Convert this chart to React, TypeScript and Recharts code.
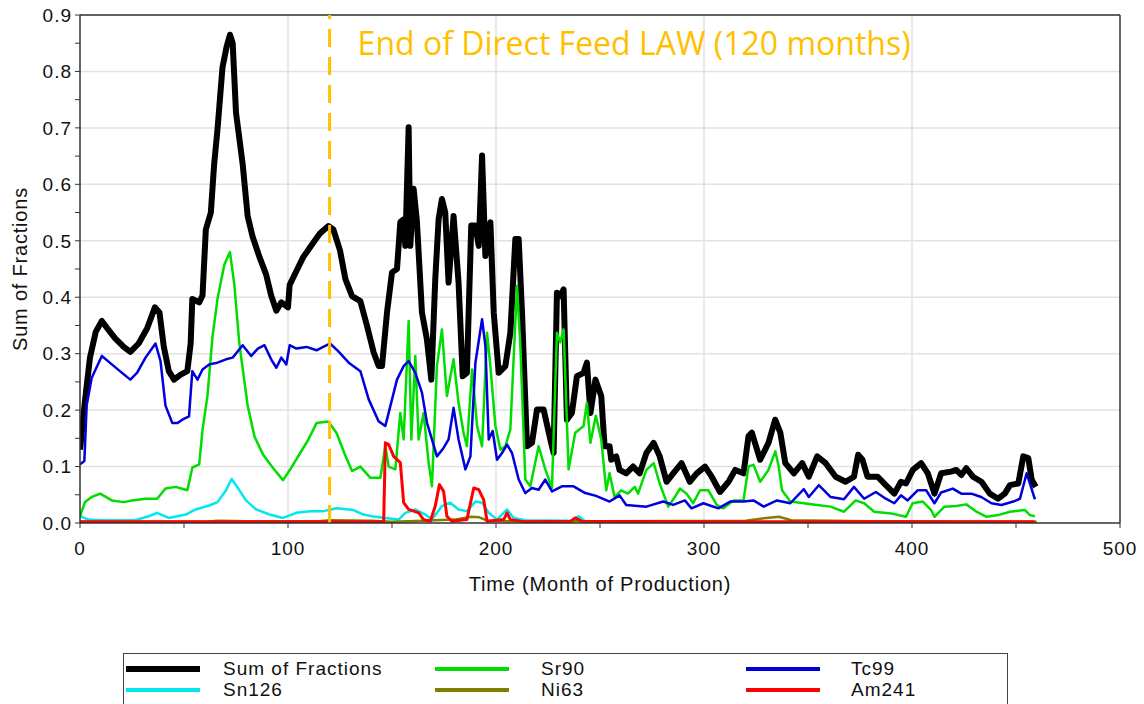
import {
  LineChart,
  Line,
  XAxis,
  YAxis,
  CartesianGrid,
  ReferenceLine,
} from "recharts";

// [month, fraction] pairs
const SUM_OF_FRACTIONS: [number, number][] = [
  [0, 0.13], [2.4, 0.217], [4.8, 0.293], [7.6, 0.339], [10.5, 0.358], [13.7, 0.342], [16.9, 0.327],
  [21, 0.312], [24.2, 0.303], [28.2, 0.318], [32.3, 0.345], [36, 0.382], [38.2, 0.373], [40.3, 0.312],
  [42.7, 0.269], [45.2, 0.254], [48.4, 0.263], [51.6, 0.269], [53.2, 0.318], [54, 0.397], [57.3, 0.391],
  [58.9, 0.403], [60.5, 0.52], [62.9, 0.55], [64.5, 0.636], [66.1, 0.697], [68.5, 0.807], [70.5, 0.844],
  [72.1, 0.865], [73.4, 0.85], [75, 0.727], [78.2, 0.636], [80.6, 0.544], [83, 0.507], [86.3, 0.471],
  [89.5, 0.44], [91.9, 0.403], [94.4, 0.376], [96.8, 0.391], [100, 0.382], [100.8, 0.422], [104, 0.446],
  [107.3, 0.471], [111.3, 0.492], [115.3, 0.513], [119.4, 0.526], [121.8, 0.52], [125, 0.483],
  [127.6, 0.432], [130.8, 0.402], [134.8, 0.393], [138, 0.349], [141.2, 0.302], [143.6, 0.278],
  [145.2, 0.278], [147.6, 0.373], [150, 0.444], [152.4, 0.45], [154, 0.533], [155.6, 0.538],
  [156.4, 0.491], [158, 0.701], [158.8, 0.491], [160.4, 0.592], [162, 0.533], [164.4, 0.373],
  [166.8, 0.325], [168.9, 0.254], [170.8, 0.432], [172.4, 0.538], [174, 0.574], [175.6, 0.55],
  [177.2, 0.426], [179.6, 0.544], [182, 0.426], [184, 0.26], [186, 0.266], [188.1, 0.527], [190, 0.527],
  [191.7, 0.491], [193.3, 0.651], [194.9, 0.473], [197.3, 0.533], [198.9, 0.373], [201.3, 0.266],
  [204.5, 0.278], [206.9, 0.337], [209.3, 0.503], [210.9, 0.503], [212.5, 0.373], [214.9, 0.136],
  [217.3, 0.142], [219.7, 0.201], [222.9, 0.201], [226.1, 0.148], [227.7, 0.124], [229.3, 0.408],
  [230.9, 0.402], [232.5, 0.414], [234.1, 0.183], [236.5, 0.195], [238.9, 0.26], [242.1, 0.266],
  [243.7, 0.284], [245.4, 0.195], [247.8, 0.254], [250.6, 0.225], [252.2, 0.136], [254.6, 0.136],
  [255.4, 0.112], [257.8, 0.118], [259.4, 0.094], [262.6, 0.088], [265.9, 0.1], [269.1, 0.088],
  [272.3, 0.124], [275.8, 0.142], [278.7, 0.118], [282, 0.073], [285.2, 0.088], [289.2, 0.106],
  [293.2, 0.073], [296.5, 0.088], [300.5, 0.1], [303.7, 0.082], [307.7, 0.055], [311.8, 0.073],
  [315, 0.094], [319, 0.088], [321.4, 0.154], [323, 0.16], [327, 0.112], [331, 0.142], [334.2, 0.183],
  [336.7, 0.16], [339.1, 0.106], [343.2, 0.088], [347.2, 0.106], [350.4, 0.082], [354.4, 0.118],
  [358.5, 0.106], [363.3, 0.082], [368.1, 0.073], [372.1, 0.082], [374.1, 0.121], [376.2, 0.112],
  [378.6, 0.082], [383.5, 0.082], [387.4, 0.067], [391.5, 0.052], [394.7, 0.073], [397.1, 0.07],
  [400.4, 0.094], [404.4, 0.106], [407.6, 0.088], [410.8, 0.052], [414, 0.088], [418.8, 0.091],
  [421.3, 0.094], [423.7, 0.085], [426.1, 0.097], [429.3, 0.082], [433.4, 0.073], [437.4, 0.052],
  [441.4, 0.043], [444.6, 0.052], [447.1, 0.067], [451.1, 0.07], [453.5, 0.118], [455.9, 0.115],
  [457.6, 0.076], [459.5, 0.064],
];

const SR90: [number, number][] = [
  [0, 0.012], [2.4, 0.037], [5.6, 0.046], [9.7, 0.052], [15.3, 0.04], [21, 0.037], [25, 0.04],
  [31.5, 0.043], [37.1, 0.043], [41.1, 0.061], [46, 0.064], [51.6, 0.058], [54, 0.098], [57.3, 0.104],
  [58.9, 0.165], [61.3, 0.226], [63.7, 0.33], [66.1, 0.397], [69.4, 0.458], [72.1, 0.48], [74.2, 0.422],
  [76.6, 0.318], [80.6, 0.208], [83.9, 0.153], [87.9, 0.122], [92.7, 0.098], [97.6, 0.076],
  [101.6, 0.098], [106.5, 0.128], [109.7, 0.147], [113.7, 0.177], [119.4, 0.18], [123.4, 0.159],
  [127.5, 0.12], [130.8, 0.092], [134.8, 0.1], [139.6, 0.08], [144.4, 0.08], [146.8, 0.136],
  [148.4, 0.1], [151.6, 0.095], [154, 0.195], [155.6, 0.148], [158, 0.358], [159.3, 0.148],
  [161.2, 0.296], [162.8, 0.148], [165.2, 0.195], [167.6, 0.107], [169.2, 0.065], [171.6, 0.278],
  [174, 0.343], [176.4, 0.225], [179.6, 0.29], [182, 0.213], [184.4, 0.16], [186, 0.136],
  [188.5, 0.272], [190.9, 0.172], [193.3, 0.136], [195.7, 0.337], [197.3, 0.278], [199.7, 0.172],
  [202.1, 0.13], [204.5, 0.136], [206.9, 0.166], [210.1, 0.42], [211.7, 0.314], [214.1, 0.077],
  [216.5, 0.065], [220.5, 0.136], [223.7, 0.095], [226.9, 0.062], [229.3, 0.337], [230.9, 0.32],
  [232.5, 0.343], [234.9, 0.095], [238.1, 0.16], [242.1, 0.172], [243.7, 0.213], [245.4, 0.142],
  [248, 0.19], [250.6, 0.148], [253, 0.058], [254.6, 0.088], [257, 0.046], [260.2, 0.058],
  [263.4, 0.052], [266.7, 0.064], [268.3, 0.052], [272.3, 0.094], [275.8, 0.106], [278.7, 0.07],
  [282.8, 0.029], [286, 0.046], [288.4, 0.061], [291.6, 0.052], [294.8, 0.035], [298.1, 0.058],
  [302.1, 0.058], [306.1, 0.032], [309.3, 0.026], [314.2, 0.04], [319, 0.04], [321.4, 0.1],
  [323.8, 0.103], [327, 0.073], [331, 0.094], [334.3, 0.127], [335.9, 0.1], [337.5, 0.058],
  [341.5, 0.038], [348, 0.035], [354.4, 0.032], [360.9, 0.029], [367.3, 0.02], [372.9, 0.04],
  [377, 0.035], [381.8, 0.02], [389.9, 0.017], [397.1, 0.011], [400.3, 0.035], [405.2, 0.038],
  [409.2, 0.023], [410.8, 0.011], [415.6, 0.029], [421.3, 0.03], [426.1, 0.033], [431, 0.02],
  [435.8, 0.011], [441.4, 0.014], [447.1, 0.02], [454.3, 0.023], [456.7, 0.014], [459.1, 0.012],
];

const TC99: [number, number][] = [
  [0, 0.104], [2.1, 0.11], [3.2, 0.208], [5.6, 0.257], [10.5, 0.296], [15.3, 0.281], [20.2, 0.266],
  [24.2, 0.254], [27.4, 0.266], [31.5, 0.293], [36.3, 0.318], [38.7, 0.287], [41.1, 0.208],
  [44.4, 0.177], [46.8, 0.177], [49.2, 0.183], [52.4, 0.189], [54, 0.269], [56.5, 0.254],
  [58.9, 0.272], [62.1, 0.281], [66.1, 0.284], [70.2, 0.29], [73.4, 0.293], [78.2, 0.315],
  [82.3, 0.296], [85.5, 0.309], [88.7, 0.315], [91.9, 0.29], [94.4, 0.275], [96.8, 0.293],
  [99.2, 0.281], [100.8, 0.315], [104, 0.309], [108.9, 0.312], [113.7, 0.306], [116.9, 0.312],
  [120.2, 0.318], [124, 0.305], [129.2, 0.284], [134.8, 0.269], [138.8, 0.219], [143.6, 0.18],
  [146.8, 0.172], [149.2, 0.207], [152.4, 0.254], [155.6, 0.278], [158, 0.287], [161.2, 0.266],
  [164.4, 0.231], [166.8, 0.178], [169.2, 0.148], [171.6, 0.118], [174.8, 0.133], [177.2, 0.148],
  [179.6, 0.204], [182, 0.148], [185.3, 0.095], [187.7, 0.118], [190.1, 0.284], [193.3, 0.361],
  [194.9, 0.314], [196.5, 0.148], [198.4, 0.163], [200.5, 0.112], [202.9, 0.124], [205.3, 0.139],
  [207.7, 0.124], [210.9, 0.077], [214.1, 0.053], [217.3, 0.062], [220.5, 0.059], [223.7, 0.077],
  [226.9, 0.056], [231.7, 0.065], [237.3, 0.065], [242.9, 0.053], [248.1, 0.048], [254.6, 0.038],
  [259.4, 0.049], [262.6, 0.032], [272.3, 0.029], [280.4, 0.038], [285.2, 0.032], [290.8, 0.04],
  [294, 0.026], [299.7, 0.035], [306.9, 0.026], [312.6, 0.038], [319, 0.038], [323.8, 0.04],
  [328.7, 0.029], [335.1, 0.04], [341.5, 0.035], [348, 0.06], [350.4, 0.046], [355.2, 0.067],
  [360.9, 0.046], [367.3, 0.042], [372.1, 0.064], [377, 0.043], [382.6, 0.055], [387.4, 0.043],
  [391.5, 0.035], [394.7, 0.049], [397.9, 0.04], [402.7, 0.058], [406.8, 0.058], [410.8, 0.035],
  [414, 0.054], [419.6, 0.061], [423.7, 0.052], [428.5, 0.052], [433.3, 0.046], [438.2, 0.035],
  [443, 0.032], [448.7, 0.038], [451.9, 0.043], [455.1, 0.088], [457.2, 0.064], [459.1, 0.042],
];

const SN126: [number, number][] = [
  [0, 0.012], [4, 0.006], [10.5, 0.005], [26.6, 0.005], [33, 0.012], [37, 0.018], [42.7, 0.009],
  [50.8, 0.015], [55.6, 0.024], [62.1, 0.031], [66.1, 0.037], [70.2, 0.058], [72.9, 0.078],
  [75, 0.067], [79.8, 0.04], [84.7, 0.024], [91.1, 0.015], [97.6, 0.009], [104, 0.018],
  [110.5, 0.021], [117, 0.021], [123.4, 0.026], [131.5, 0.023], [136.3, 0.015], [140.4, 0.012],
  [146.8, 0.009], [153.2, 0.006], [156.4, 0.018], [161.2, 0.024], [166, 0.015], [169.2, 0.006],
  [174, 0.03], [178, 0.036], [182, 0.024], [186, 0.021], [190.1, 0.038], [193.3, 0.036],
  [196.5, 0.018], [200.5, 0.006], [205.3, 0.024], [208.5, 0.009], [214.1, 0.005], [236, 0.004],
  [239.7, 0.012], [242.9, 0.003], [252.6, 0.001], [300, 0.002], [340, 0.001], [400, 0.002],
  [459, 0.001],
];

const NI63: [number, number][] = [
  [0, 0.002], [60, 0.002], [66, 0.004], [80, 0.003], [115, 0.003], [120, 0.005], [140, 0.004],
  [150, 0.002], [165, 0.004], [180, 0.006], [188, 0.011], [192, 0.01], [196, 0.004], [210, 0.003],
  [250, 0.003], [320, 0.004], [330, 0.009], [336, 0.011], [342, 0.005], [380, 0.003], [460, 0.002],
];

const AM241: [number, number][] = [
  [0, 0.002], [100, 0.002], [146, 0.002], [146.8, 0.142], [148.4, 0.139], [150.8, 0.118],
  [154, 0.107], [155.6, 0.036], [158, 0.024], [162.8, 0.018], [165.2, 0.006], [168.4, 0.003],
  [170.8, 0.03], [172.8, 0.068], [174.8, 0.056], [176.4, 0.012], [178.8, 0.003], [186, 0.006],
  [189.3, 0.062], [191.7, 0.059], [194.1, 0.041], [195.7, 0.003], [203.7, 0.006], [205.3, 0.018],
  [206.9, 0.006], [214.1, 0.002], [236, 0.003], [238.1, 0.009], [241.3, 0.003], [300, 0.002],
  [459, 0.002],
];

const X_TICKS = [0, 50, 100, 150, 200, 250, 300, 350, 400, 450, 500];
const Y_TICKS = [0, 0.05, 0.1, 0.15, 0.2, 0.25, 0.3, 0.35, 0.4, 0.45, 0.5, 0.55, 0.6, 0.65, 0.7, 0.75, 0.8, 0.85, 0.9];
const END_OF_DIRECT_FEED = 120;

const FONT = "'Liberation Sans', Arial, sans-serif";

const SERIES = [
  { name: "Sum of Fractions", pts: SUM_OF_FRACTIONS, color: "#000000", width: 6 },
  { name: "Sn126", pts: SN126, color: "#00E8EE", width: 2.5 },
  { name: "Sr90", pts: SR90, color: "#00DD00", width: 2.5 },
  { name: "Ni63", pts: NI63, color: "#808000", width: 2.5 },
  { name: "Tc99", pts: TC99, color: "#0000DD", width: 2.5 },
  { name: "Am241", pts: AM241, color: "#FF0000", width: 3 },
];

const toRows = (pts: [number, number][]) => pts.map(([m, v]) => ({ m, v }));

const LEGEND_ROWS = [
  ["Sum of Fractions", "Sr90", "Tc99"],
  ["Sn126", "Ni63", "Am241"],
];
const LEGEND_COLS = [
  { lineLeft: 125, lineWidth: 74, textLeft: 222 },
  { lineLeft: 434, lineWidth: 74, textLeft: 540 },
  { lineLeft: 745, lineWidth: 74, textLeft: 850 },
];

function Legend() {
  return (
    <div
      style={{
        position: "absolute",
        left: 123,
        top: 653,
        width: 885,
        height: 70,
        border: "1px solid #444",
        boxSizing: "border-box",
      }}
    >
      {LEGEND_ROWS.map((row, ri) =>
        row.map((name, ci) => {
          const s = SERIES.find((x) => x.name === name)!;
          const col = LEGEND_COLS[ci];
          const cy = ri === 0 ? 15 : 36;
          return (
            <div key={name}>
              <div
                style={{
                  position: "absolute",
                  left: col.lineLeft - 123,
                  top: cy - (name === "Sum of Fractions" ? 3 : 2),
                  width: col.lineWidth,
                  height: name === "Sum of Fractions" ? 6 : 4,
                  background: s.color,
                }}
              />
              <div
                style={{
                  position: "absolute",
                  left: col.textLeft - 123,
                  top: cy - 11,
                  fontFamily: FONT,
                  fontSize: 19,
                  letterSpacing: 1,
                  lineHeight: "22px",
                  color: "#111",
                  whiteSpace: "nowrap",
                }}
              >
                {name}
              </div>
            </div>
          );
        })
      )}
    </div>
  );
}

export default function App() {
  return (
    <div
      style={{
        position: "absolute",
        left: 0,
        top: 0,
        width: 1144,
        height: 704,
        overflow: "hidden",
        background: "#fff",
      }}
    >
      <LineChart
        width={1144}
        height={610}
        margin={{ top: 15, right: 24, left: 8, bottom: 17 }}
      >
        <CartesianGrid
          stroke="#e2e2e2"
          strokeWidth={1.5}
          horizontalValues={[0.1, 0.2, 0.3, 0.4, 0.5, 0.6, 0.7, 0.8, 0.9]}
          verticalValues={[100, 200, 300, 400]}
        />
        <XAxis
          type="number"
          dataKey="m"
          domain={[0, 500]}
          ticks={X_TICKS}
          interval={0}
          allowDataOverflow
          height={70}
          tickSize={5}
          tickMargin={14}
          axisLine={{ stroke: "#333", strokeWidth: 1.5 }}
          tickLine={{ stroke: "#333" }}
          tick={{ fill: "#111", fontSize: 19, fontFamily: FONT, letterSpacing: 1 }}
          tickFormatter={(v) => (v % 100 === 0 ? String(v) : "")}
          label={{
            value: "Time (Month of Production)",
            position: "insideBottom",
            offset: 2,
            style: { fill: "#111", fontSize: 20, fontFamily: FONT, letterSpacing: 0.8 },
          }}
        />
        <YAxis
          type="number"
          domain={[0, 0.9]}
          ticks={Y_TICKS}
          interval={0}
          allowDataOverflow
          width={72}
          tickSize={5}
          tickMargin={3}
          axisLine={{ stroke: "#333", strokeWidth: 1.5 }}
          tickLine={{ stroke: "#333" }}
          tick={{ fill: "#111", fontSize: 19, fontFamily: FONT, letterSpacing: 1 }}
          tickFormatter={(v) =>
            Math.round(v * 100) % 10 === 0 ? Number(v).toFixed(1) : ""
          }
          label={{
            value: "Sum of Fractions",
            angle: -90,
            position: "insideLeft",
            offset: 12,
            style: { fill: "#111", fontSize: 20, fontFamily: FONT, letterSpacing: 0.8, textAnchor: "middle" },
          }}
        />
        <ReferenceLine y={0.9} stroke="#333" strokeWidth={1.5} />
        <ReferenceLine x={500} stroke="#333" strokeWidth={1.5} />
        {SERIES.map((s) => (
          <Line
            key={s.name}
            data={toRows(s.pts)}
            dataKey="v"
            name={s.name}
            type="linear"
            stroke={s.color}
            strokeWidth={s.width}
            strokeLinejoin="round"
            dot={false}
            activeDot={false}
            isAnimationActive={false}
          />
        ))}
        <ReferenceLine
          x={END_OF_DIRECT_FEED}
          stroke="#FFC000"
          strokeWidth={3}
          strokeDasharray="18 10"
          label={{
            value: "End of Direct Feed LAW (120 months)",
            position: "insideTopLeft",
            offset: 0,
            content: (props: any) => {
              const vb = props.viewBox || {};
              return (
                <text
                  x={(vb.x ?? 0) + 28}
                  y={(vb.y ?? 0) + 40}
                  fill="#FFC000"
                  fontSize={32}
                  fontFamily="'Open Sans', 'Lato', sans-serif"
                >
                  End of Direct Feed LAW (120 months)
                </text>
              );
            },
          }}
        />
      </LineChart>
      <Legend />
    </div>
  );
}
